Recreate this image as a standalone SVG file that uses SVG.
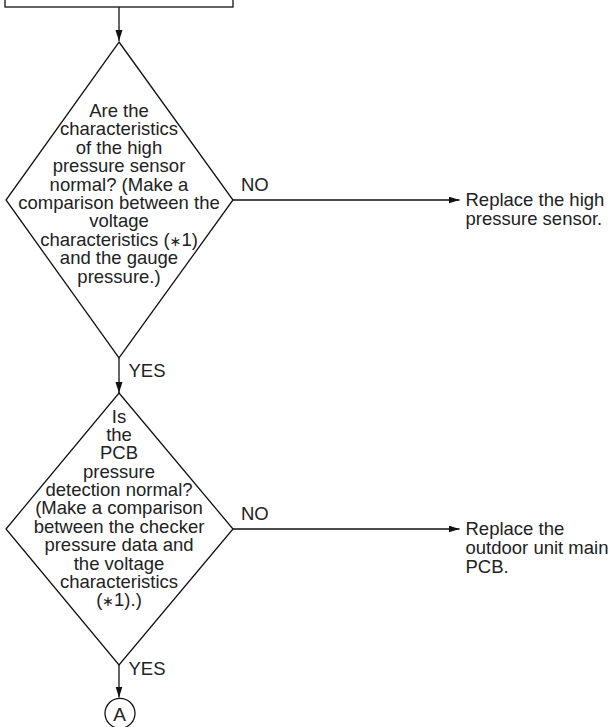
<svg xmlns="http://www.w3.org/2000/svg" width="611" height="727" viewBox="0 0 611 727">
  <style>
    .shape { fill: #ffffff; stroke: #111111; stroke-width: 1.3; }
    .conn { fill: none; stroke: #111111; stroke-width: 1.3; }
    text { font-family: "Liberation Sans", Arial, "DejaVu Sans", sans-serif; font-size: 18.5px; fill: #222222; }
    .c { text-anchor: middle; }
    .ast { font-size: 14px; }
  </style>
  <defs>
    <marker id="arrow" markerUnits="userSpaceOnUse" markerWidth="12" markerHeight="8" refX="11" refY="3.5" orient="auto">
      <path d="M0,0 L11,3.5 L0,7 Z" fill="#111111"/>
    </marker>
  </defs>
  <rect width="611" height="727" fill="#ffffff"/>

  <g id="top-box">
    <rect class="shape" x="5" y="-40" width="228" height="47"/>
  </g>

  <g id="decision-1">
    <polygon class="shape" points="119,42 233,200 119,358 6,200"/>
    <text class="c" x="119" y="116.7">Are the</text>
    <text class="c" x="119" y="135.1">characteristics</text>
    <text class="c" x="119" y="153.6">of the high</text>
    <text class="c" x="119" y="172">pressure sensor</text>
    <text class="c" x="119" y="190.5">normal? (Make a</text>
    <text class="c" x="119" y="208.9">comparison between the</text>
    <text class="c" x="119" y="227.4">voltage</text>
    <text class="c" x="119" y="245.8">characteristics (<tspan class="ast">∗</tspan>1)</text>
    <text class="c" x="119" y="264.3">and the gauge</text>
    <text class="c" x="119" y="282.7">pressure.)</text>
  </g>

  <g id="result-1">
    <text x="465.5" y="206">Replace the high</text>
    <text x="465.5" y="225">pressure sensor.</text>
  </g>

  <g id="decision-2">
    <polygon class="shape" points="119,393 233,529 119,665 6,529"/>
    <text class="c" x="119" y="422.7">Is</text>
    <text class="c" x="119" y="441">the</text>
    <text class="c" x="119" y="459.4">PCB</text>
    <text class="c" x="119" y="477.7">pressure</text>
    <text class="c" x="119" y="496.1">detection normal?</text>
    <text class="c" x="119" y="514.4">(Make a comparison</text>
    <text class="c" x="119" y="532.8">between the checker</text>
    <text class="c" x="119" y="551.1">pressure data and</text>
    <text class="c" x="119" y="569.5">the voltage</text>
    <text class="c" x="119" y="587.8">characteristics</text>
    <text class="c" x="119" y="606.2">(<tspan class="ast">∗</tspan>1).)</text>
  </g>

  <g id="result-2">
    <text x="465.5" y="535">Replace the</text>
    <text x="465.5" y="554">outdoor unit main</text>
    <text x="465.5" y="573">PCB.</text>
  </g>

  <g id="connector-A">
    <circle class="shape" cx="120" cy="713.3" r="15"/>
    <text class="c" x="119.5" y="721" style="font-size:19px">A</text>
  </g>

  <g id="connectors">
    <line class="conn" x1="119" y1="7" x2="119" y2="41" marker-end="url(#arrow)"/>
    <line class="conn" x1="233" y1="200" x2="459.5" y2="200" marker-end="url(#arrow)"/>
    <text x="241" y="190.7">NO</text>
    <line class="conn" x1="119" y1="358" x2="119" y2="393" marker-end="url(#arrow)"/>
    <text x="128.5" y="376.7">YES</text>
    <line class="conn" x1="233" y1="529" x2="459.5" y2="529" marker-end="url(#arrow)"/>
    <text x="241" y="520">NO</text>
    <line class="conn" x1="119" y1="665" x2="119" y2="697.5" marker-end="url(#arrow)"/>
    <text x="128.5" y="675">YES</text>
  </g>
</svg>
